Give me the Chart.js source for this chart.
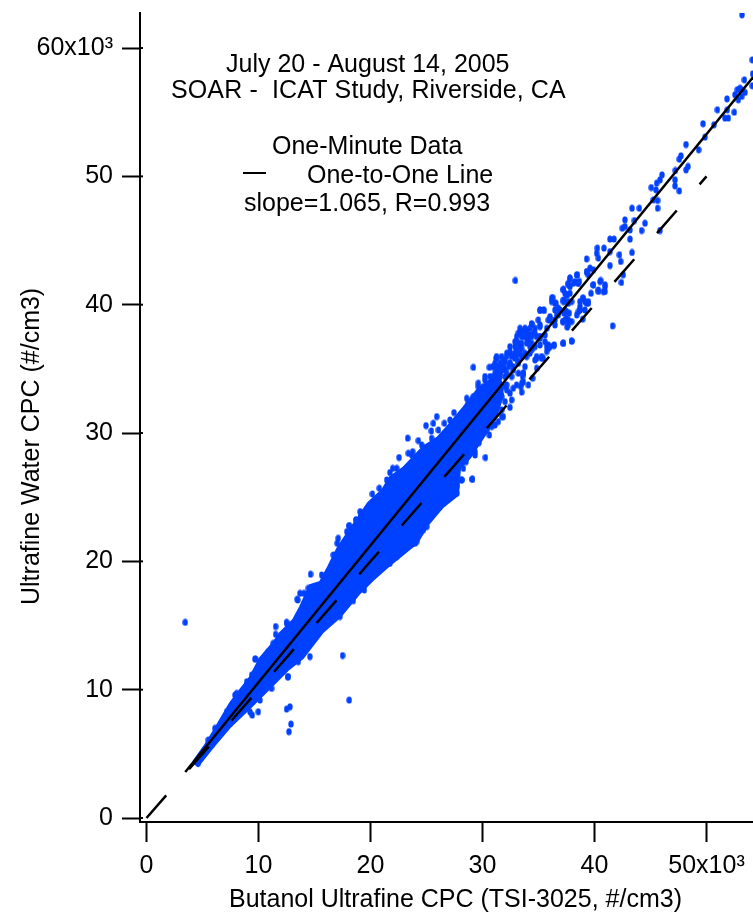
<!DOCTYPE html>
<html>
<head>
<meta charset="utf-8">
<title>Water CPC vs Butanol CPC</title>
<script src="https://cdn.jsdelivr.net/npm/chart.js@4/dist/chart.umd.min.js"></script>
<style>
    html, body { margin: 0; padding: 0; background: #fff; }
    canvas { display: block; }
</style>
</head>
<body>
<canvas id="cpcChart" width="753" height="913"></canvas>
<script>
// thousands of particles per cm3
const xTicks = [0, 10, 20, 30, 40, 50];
const xTickLabels = ['0', '10', '20', '30', '40', '50x10³'];
const yTicks = [0, 10, 20, 30, 40, 50, 60];
const yTickLabels = ['0', '10', '20', '30', '40', '50', '60x10³'];

// outline of the part of the cloud where the one-minute points merge solid
const cloudX = [4.15, 5.22, 5.94, 7.46, 8.35, 9.24, 10.13, 11.29, 11.92, 13.08, 13.71, 14.6, 15.49, 16.21, 17.1, 18.44, 19.78, 21.03, 21.74, 22.9, 24.69, 25.94, 26.83, 28.26, 29.51, 30.67, 31.56,
    31.83, 31.29, 30.4, 28.88, 27.99, 27.81, 26.47, 25.13, 24.15, 21.74, 20.22, 19.06, 17.28, 15.76, 13.97, 12.63, 11.03, 9.24, 7.46, 5.94, 4.6, 4.15];
const cloudY = [4.36, 5.69, 6.7, 8.96, 9.98, 10.99, 12.47, 13.64, 14.42, 15.43, 16.45, 18.16, 18.39, 19.56, 21.12, 22.84, 24.55, 25.56, 26.58, 27.28, 28.92, 29.62, 30.48, 31.96, 33.36, 34.14, 34.53,
    32.97, 31.41, 30.09, 28.06, 27.28, 25.18, 24.24, 22.84, 21.43, 19.72, 18.55, 17.54, 15.67, 14.5, 12.47, 11.54, 10.13, 8.57, 7.09, 5.53, 4.05, 4.36];

// separate points: the sparse top end, the edges of the cloud, the outliers
const pointX = [53.17, 54.09, 54.12, 54.09, 53.38, 52.99, 52.75, 53.14, 53.44, 52.54, 52.84, 53.14, 51.83, 50.97, 52.48, 51.86, 51.65, 51.95, 49.69, 50.67,
    49.87, 48.17, 49.3, 47.72, 47.57, 48.35, 48.17, 47.22, 46.03, 45.85, 45.55, 45.07, 45.49, 47.19, 47.19, 47.57, 45.25, 45.64, 45.64, 43.35,
    44.0, 42.72, 42.48, 42.72, 43.56, 44.51, 43.17, 44.21, 45.85, 43.17, 41.38, 41.74, 40.25, 40.85, 40.19, 41.38, 40.34, 39.3, 42.22, 42.34,
    43.35, 41.38, 39.6, 39.9, 39.3, 38.47, 38.65, 37.81, 32.93, 42.57, 42.4, 40.55, 39.9, 40.94, 40.34, 40.94, 37.22, 37.66, 37.57, 37.37,
    36.27, 36.56, 36.77, 38.94, 39.45, 38.71, 38.56, 35.13, 35.52, 36.03, 36.77, 37.28, 37.75, 37.96, 37.16, 37.57, 38.94, 41.62, 34.39, 35.13,
    33.65, 33.2, 34.54, 34.09, 33.05, 35.13, 35.88, 36.38, 37.22, 37.96, 35.73, 34.84, 35.28, 32.46, 31.27, 32.01, 32.9, 33.79, 34.39, 30.97,
    31.71, 33.65, 34.84,
    29.18, 30.61, 31.2, 32.16, 33.2, 32.9, 33.35, 33.94, 34.39, 35.13, 34.09, 35.13, 35.58, 35.88, 36.41, 37.2, 37.96, 34.69, 35.43, 33.64,
    33.64, 34.48, 34.09, 32.75, 31.86, 32.75, 33.5, 32.6, 32.45, 31.71, 31.11, 30.61, 28.59, 29.63, 30.22, 30.97, 31.56, 32.16,
    25.91, 24.96, 25.61, 26.6, 25.43, 26.06, 27.46, 23.32, 24.27, 22.55, 23.38, 23.77, 21.98, 21.74, 20.17, 20.79, 18.11, 18.71, 19.21, 29.69,
    30.26, 29.09, 29.33, 28.53, 28.14, 27.7, 26.74, 26.21, 25.02, 24.12, 21.74, 20.64,
    14.65, 18.1, 17.12, 17.03, 16.68, 18.7, 19.12, 13.46, 14.06, 11.53, 11.53, 12.51, 17.51, 14.59, 19.45, 20.4, 17.27, 18.46, 19.95,
    9.68, 18.1, 12.81, 12.51, 12.9, 12.72, 9.98, 9.44, 12.66, 8.05, 3.46, 9.75, 12.51, 13.5, 12.6,
    29.78, 30.37, 30.97, 31.56, 32.01, 32.45, 31.26, 31.86, 32.45, 33.05, 33.5, 33.79, 34.24, 34.69, 33.5, 34.39, 33.94, 33.2, 32.6, 33.2,
    33.5, 33.05, 32.16, 32.45, 31.71, 32.01, 31.11, 30.52, 30.07, 29.18, 28.73, 29.78, 29.33, 28.59, 30.67, 30.97, 31.71, 31.41, 30.82, 30.37,
    31.86, 35.13, 35.88, 36.03, 36.62, 37.51, 37.66, 37.22, 37.51, 37.81, 38.26, 38.41, 37.81, 38.55, 37.22, 39.0, 39.3, 38.7, 38.41, 37.51,
    37.66, 37.22, 36.47, 35.58, 35.88, 35.13, 35.43, 36.47, 36.17, 39.89, 40.49, 40.94, 40.79, 40.34, 39.69, 39.3,
    26.21, 26.65, 27.4, 27.7, 27.55, 26.5, 25.32, 24.72, 23.68, 22.64, 21.6, 20.55,
    17.88, 19.07, 20.26, 21.45, 22.34, 23.68, 24.57, 25.46, 27.1,
    13.7, 14.45, 15.64, 22.33, 23.97, 24.72, 25.46, 26.35, 27.1, 28.29, 29.33, 28.14, 29.09,
    5.52, 6.11, 7.15, 7.9, 8.94, 9.39, 10.28, 10.87, 11.32, 4.62, 5.81, 7.45, 9.24, 10.13, 11.17, 13.55,
    29.63, 30.07, 30.52, 30.97, 31.41, 31.86, 33.41, 30.22, 30.67, 31.11, 31.56, 32.01, 33.58, 30.97, 31.41, 31.86, 32.31, 32.75, 33.79,
    31.26, 31.71, 32.16, 32.6, 33.05, 33.5, 34.83, 35.28, 32.45, 32.9, 33.35, 34.24, 34.69, 35.73, 36.03,
    33.05, 33.5, 33.94, 34.39, 34.83, 35.13, 33.35, 33.79, 34.24, 34.69, 35.73, 34.98, 36.03, 36.47, 37.36, 37.66,
    36.47, 36.92, 37.36, 38.7, 39.15, 36.17, 37.22, 37.66, 37.96, 38.7, 39.15, 39.45, 37.36, 37.81, 37.66, 38.11, 38.55, 39.45,
    33.35, 33.94, 33.5, 33.94, 34.39, 32.9, 33.35, 34.24, 31.12, 31.56, 32.46, 33.2, 31.12, 31.56, 32.16];
const pointY = [62.59, 59.08, 57.99, 57.06, 57.52, 56.87, 56.75, 56.75, 56.54, 56.36, 55.97, 56.23, 56.04, 55.19, 55.0, 55.19, 54.54, 54.54, 54.1, 54.02,
    53.06, 52.48, 52.07, 51.6, 51.34, 50.77, 50.51, 50.46, 50.12, 49.73, 49.47, 49.13, 48.95, 49.73, 49.26, 48.87, 48.17, 48.12, 47.52, 47.52,
    47.52, 46.61, 45.96, 46.09, 46.56, 46.35, 45.83, 45.78, 45.78, 45.11, 45.11, 45.11, 44.41, 44.41, 44.01, 44.14, 43.63, 43.57, 43.89, 43.37,
    44.07, 43.05, 42.85, 42.72, 42.53, 42.33, 41.81, 42.07, 41.89, 42.33, 41.73, 41.89, 41.55, 41.55, 41.03, 41.03, 41.21, 41.55, 40.77, 40.25,
    40.56, 40.12, 39.73, 40.51, 40.12, 39.86, 39.47, 39.55, 39.55, 38.95, 39.21, 39.34, 39.34, 38.69, 38.69, 38.25, 38.87, 38.35, 38.51, 38.43,
    37.91, 37.78, 37.78, 37.26, 37.13, 37.52, 36.87, 36.82, 37.0, 37.16, 36.35, 35.83, 35.83, 36.22, 35.83, 35.57, 35.83, 36.22, 36.48, 35.18,
    34.92, 34.66, 35.05,
    35.12, 35.12, 35.83, 36.22, 37.0, 37.12, 37.77, 38.03, 38.5, 38.29, 37.12, 37.38, 37.12, 36.6, 36.87, 37.0, 37.18, 35.7, 35.82, 34.66,
    34.0, 34.27, 33.75, 34.92, 35.18, 33.49, 33.19, 32.58, 32.0, 31.28, 30.63, 29.85, 32.71, 33.88, 34.14, 34.4, 33.36, 33.75,
    31.28, 30.58, 30.76, 30.76, 30.16, 30.24, 31.59, 29.6, 29.41, 28.09, 28.42, 28.55, 27.25, 26.92, 25.25, 25.7, 22.76, 23.23, 23.62, 29.25,
    28.09, 26.4, 28.55, 27.77, 26.34, 25.31, 25.05, 24.27, 22.71, 21.54, 19.85, 19.67,
    19.0, 22.79, 21.8, 21.41, 20.5, 23.23, 23.62, 17.05, 17.51, 14.92, 14.32, 15.18, 12.66, 12.58, 17.77, 19.13, 15.7, 16.94, 18.68,
    12.39, 9.19, 8.67, 8.49, 7.32, 6.73, 8.28, 8.02, 11.01, 9.71, 15.25, 12.39, 15.25, 16.99, 11.01,
    33.36, 33.75, 33.88, 34.66, 34.92, 35.44, 34.92, 35.7, 36.34, 36.47, 36.6, 37.51, 37.64, 37.77, 37.77, 36.6, 35.95, 35.57, 34.4, 34.66,
    33.88, 33.75, 33.36, 33.1, 32.84, 32.45, 32.97, 32.58, 32.84, 32.84, 32.32, 32.32, 31.54, 31.8, 31.54, 31.15, 31.8, 30.89, 30.5, 30.24,
    31.28, 36.86, 38.81, 39.07, 39.2, 39.46, 40.11, 40.37, 40.76, 41.41, 41.8, 42.32, 42.06, 41.67, 41.15, 40.5, 40.11, 39.59, 39.2, 38.94,
    38.42, 38.68, 38.42, 37.64, 36.73, 39.59, 39.59, 40.11, 40.5, 41.54, 41.8, 41.41, 41.02, 41.15, 40.89, 42.58,
    24.79, 25.31, 25.18, 25.83, 26.6, 24.53, 23.62, 22.58, 21.8, 20.63, 19.85, 19.72,
    22.32, 23.88, 24.53, 26.34, 27.25, 28.29, 29.07, 29.59, 31.02,
    17.51, 17.9, 18.94, 20.37, 21.41, 22.45, 23.75, 24.53, 25.05, 27.25, 28.29, 26.35, 26.4,
    6.08, 6.99, 8.28, 9.58, 10.62, 11.14, 12.05, 12.96, 13.61, 4.26, 5.69, 7.37, 8.28, 9.19, 10.1, 12.18,
    33.62, 33.62, 33.62, 33.62, 33.62, 33.62, 33.62, 34.4, 34.4, 34.4, 34.4, 34.4, 34.4, 35.17, 35.17, 35.17, 35.17, 35.17, 35.17,
    35.96, 35.96, 35.96, 35.96, 35.96, 35.96, 35.96, 35.96, 36.73, 36.73, 36.73, 36.73, 36.73, 36.73, 36.73,
    37.51, 37.51, 37.51, 37.51, 37.51, 37.51, 38.16, 38.16, 38.16, 38.16, 38.16, 38.81, 38.81, 38.81, 38.81, 38.81,
    39.59, 39.59, 39.59, 39.59, 39.59, 40.24, 40.24, 40.24, 40.24, 40.24, 40.24, 40.24, 40.89, 40.89, 41.67, 41.67, 41.67, 42.32,
    37.78, 37.78, 37.0, 37.0, 37.0, 36.22, 36.22, 36.22, 35.44, 35.44, 35.44, 35.44, 34.66, 34.66, 34.66];

// fitted line, slope=1.065
const fitX = [3.46, 54.15];
const fitY = [3.59, 57.72];

const oneToOneX = [0, 50];
const oneToOneY = [0, 50];

function toXY(xs, ys) {
    return xs.map((x, i) => ({ x: x, y: ys[i] }));
}

// the markers are slightly tall ellipses in the original
function makeMarker() {
    const marker = document.createElement('canvas');
    marker.width = 6;
    marker.height = 8;
    const ctx = marker.getContext('2d');
    ctx.fillStyle = '#0040ff';
    ctx.beginPath();
    ctx.ellipse(3, 4, 2.7, 3.6, 0, 0, Math.PI * 2);
    ctx.fill();
    return marker;
}

const font = '"Liberation Sans", Arial, sans-serif';

const textPlugin = {
    id: 'textPlugin',
    afterDraw(chart) {
        const ctx = chart.ctx;
        const yScale = chart.scales.y;
        const area = chart.chartArea;

        // y ticks poke a little through the axis
        ctx.save();
        ctx.strokeStyle = '#000';
        ctx.lineWidth = 2;
        yTicks.forEach(v => {
            const py = yScale.getPixelForValue(v);
            ctx.beginPath();
            ctx.moveTo(area.left, py);
            ctx.lineTo(area.left + 3, py);
            ctx.stroke();
        });

        // key sample for the one-to-one line
        ctx.beginPath();
        ctx.moveTo(243, 173);
        ctx.lineTo(266, 173);
        ctx.stroke();

        ctx.fillStyle = '#000';
        ctx.textBaseline = 'alphabetic';
        ctx.textAlign = 'left';
        ctx.font = '25px ' + font;
        ctx.fillText('July 20 - August 14, 2005', 226, 72);
        ctx.letterSpacing = '0.12px';
        ctx.fillText('SOAR -  ICAT Study, Riverside, CA', 171, 98);
        ctx.letterSpacing = '0px';
        ctx.fillText('One-Minute Data', 272, 154);
        ctx.fillText('One-to-One Line', 307, 183);
        ctx.fillText('slope=1.065, R=0.993', 244, 211);

        ctx.fillText('Butanol Ultrafine CPC (TSI-3025, #/cm3)', 229, 907);

        ctx.translate(39, 605);
        ctx.rotate(-Math.PI / 2);
        ctx.fillText('Ultrafine Water CPC (#/cm3)', 0, 0);
        ctx.restore();
    }
};

// keep the plot box where the original has it, whatever the labels measure
function clearPadding(scale) {
    scale.paddingTop = 0;
    scale.paddingBottom = 0;
    scale.paddingLeft = 0;
    scale.paddingRight = 0;
}

document.addEventListener('DOMContentLoaded', function () {
    const ctx = document.getElementById('cpcChart').getContext('2d');

    new Chart(ctx, {
        type: 'scatter',
        data: {
            datasets: [
                {
                    label: 'One-to-One Line',
                    data: toXY(oneToOneX, oneToOneY),
                    showLine: true,
                    borderColor: '#000',
                    borderWidth: 2.5,
                    borderDash: [30, 34.7],
                    pointRadius: 0,
                    order: 0
                },
                {
                    label: 'Fit',
                    data: toXY(fitX, fitY),
                    showLine: true,
                    borderColor: '#000',
                    borderWidth: 2.5,
                    pointRadius: 0,
                    order: 0
                },
                {
                    label: 'One-Minute Data',
                    data: toXY(pointX, pointY),
                    pointStyle: makeMarker(),
                    backgroundColor: '#0040ff',
                    order: 1
                },
                {
                    label: 'One-Minute Data (dense)',
                    data: toXY(cloudX, cloudY),
                    showLine: true,
                    fill: 'shape',
                    backgroundColor: '#0040ff',
                    borderColor: '#0040ff',
                    borderWidth: 2,
                    pointRadius: 0,
                    order: 2
                }
            ]
        },
        options: {
            responsive: false,
            animation: false,
            layout: { autoPadding: false, padding: { top: 13, right: 0, left: 0, bottom: 0 } },
            plugins: {
                legend: { display: false },
                tooltip: { enabled: false }
            },
            scales: {
                x: {
                    type: 'linear',
                    min: -0.58,
                    max: 54.15,
                    afterFit: scale => { scale.height = 91; clearPadding(scale); },
                    afterBuildTicks: scale => { scale.ticks = xTicks.map(v => ({ value: v })); },
                    border: { color: '#000', width: 2 },
                    grid: { drawOnChartArea: false, drawTicks: true, tickLength: 20, tickWidth: 2, tickColor: '#000' },
                    ticks: {
                        color: '#000',
                        font: { family: font, size: 25 },
                        padding: 9,
                        maxRotation: 0,
                        autoSkip: false,
                        callback: (value, index) => xTickLabels[index]
                    }
                },
                y: {
                    type: 'linear',
                    min: -0.31,
                    max: 62.73,
                    afterFit: scale => { scale.width = 140; clearPadding(scale); },
                    afterBuildTicks: scale => { scale.ticks = yTicks.map(v => ({ value: v })); },
                    border: { color: '#000', width: 2 },
                    grid: { drawOnChartArea: false, drawTicks: true, tickLength: 18, tickWidth: 2, tickColor: '#000' },
                    ticks: {
                        color: '#000',
                        font: { family: font, size: 25 },
                        padding: 9,
                        autoSkip: false,
                        callback: (value, index) => yTickLabels[index]
                    }
                }
            }
        },
        plugins: [textPlugin]
    });
});
</script>
</body>
</html>
